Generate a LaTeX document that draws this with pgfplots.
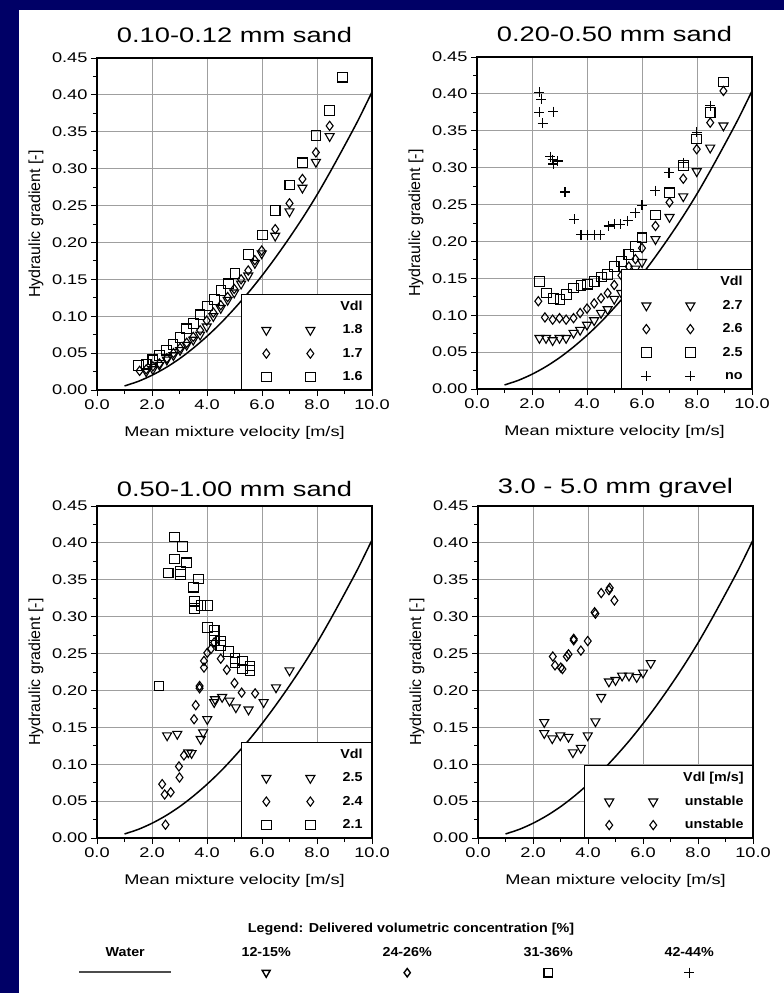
\documentclass[border=0pt]{standalone}
\usepackage{fontspec}
\setmainfont{Liberation Sans}[FakeStretch=1.3]
\newfontfamily\ylabfont{Liberation Sans}
\newfontfamily\legfont{Liberation Sans}[FakeStretch=1.1]
\usepackage{pgfplots}
\pgfplotsset{compat=1.18}
\definecolor{slidebg}{HTML}{000066}

% water reference curve, shared by all four panels
\pgfplotstableread{
v i
1.0 0.0055
1.5 0.0117
2.0 0.0200
2.5 0.0302
3.0 0.0424
3.5 0.0567
4.0 0.0728
4.5 0.0906
5.0 0.1105
5.5 0.1318
6.0 0.1550
6.5 0.1800
7.0 0.2065
7.5 0.2345
8.0 0.2645
8.5 0.2970
9.0 0.3310
9.5 0.3660
10.0 0.4040
}\water

\pgfplotsset{
  panel/.style={
    scale only axis, width=275pt, height=332pt,
    xmin=0, xmax=10, ymin=0, ymax=0.45,
    xtick={0,2,4,6,8,10},
    xticklabels={0.0,2.0,4.0,6.0,8.0,10.0},
    ytick={0,0.05,0.10,0.15,0.20,0.25,0.30,0.35,0.40,0.45},
    yticklabels={0.00,0.05,0.10,0.15,0.20,0.25,0.30,0.35,0.40,0.45},
    minor x tick num=1, minor y tick num=1,
    tick pos=left, tick align=outside,
    major tick length=6pt, minor tick length=4pt,
    tick style={black, line width=0.8pt},
    axis line style={line width=2.2pt},
    grid=major, major grid style={gray!75, line width=0.8pt},
    tick label style={font=\fontsize{14}{16}\selectfont},
    xlabel={Mean mixture velocity [m/s]},
    ylabel={Hydraulic gradient [-]},
    xlabel style={font=\fontsize{14}{16}\selectfont, at={(axis description cs:0.5,0)}, anchor=base, yshift=-46pt},
    ylabel style={font=\ylabfont\fontsize{16}{18}\selectfont, at={(axis description cs:-0.222,0.5)}, anchor=center},
    title style={font=\fontsize{21}{24}\selectfont, at={(axis description cs:0.5,1)}, anchor=base, yshift=10pt},
    legend cell align=right,
    legend style={at={(1,0)}, anchor=south east, draw=black, line width=0.8pt, fill=white,
      inner xsep=9pt, inner ysep=6pt, row sep=9pt, column sep=19pt,
      font=\legfont\bfseries\fontsize{13}{15}\selectfont,
      nodes={inner sep=0pt, text height=10pt, text depth=3pt}},
    legend image code/.code={\path[draw=none, fill=none] (-16pt,-3pt) rectangle (55pt,8pt);
      \draw[##1, fill=none] plot coordinates {(0pt,0pt) (44pt,0pt)};},
  },
  tri/.style={only marks, mark=triangle, mark size=5.2pt, mark options={rotate=180, line width=1.1pt, black}},
  dia/.style={only marks, mark=diamond, mark size=4.6pt, mark options={line width=1.1pt, black}},
  sqr/.style={only marks, mark=square, mark size=4.8pt, mark options={line width=1.1pt, black}},
  crs/.style={only marks, mark=+, mark size=5pt, mark options={line width=1.1pt, black}},
  wline/.style={black, line width=1.5pt, smooth, no marks, forget plot},
}

\begin{document}
\begin{tikzpicture}[x=1pt, y=1pt]
\path[use as bounding box] (0pt,0pt) rectangle (784pt,-993pt);
\fill[slidebg] (0pt,0pt) rectangle (784pt,-993pt);
\fill[white] (19pt,-10pt) rectangle (784pt,-993pt);

% ---- panel 1
\begin{axis}[panel, at={(97pt,-390pt)}, anchor=south west, title={0.10-0.12 mm sand}]
\addlegendimage{empty legend}\addlegendentry{Vdl}
\addplot[wline] table[x=v, y=i] {\water};
\addplot[tri] coordinates {(1.79,0.025)(2.03,0.028)(2.27,0.034)(2.54,0.041)(2.78,0.047)(3.02,0.054)(3.26,0.061)(3.50,0.068)(3.75,0.075)(3.99,0.086)(4.23,0.100)(4.50,0.111)(4.75,0.122)(4.99,0.132)(5.24,0.144)(5.50,0.155)(5.74,0.172)(5.99,0.185)(6.48,0.209)(7.00,0.242)(7.47,0.274)(7.96,0.309)(8.46,0.344)};
\addlegendentry{1.8}
\addplot[dia] coordinates {(1.55,0.026)(1.79,0.028)(2.03,0.032)(2.27,0.036)(2.54,0.043)(2.78,0.050)(3.02,0.057)(3.26,0.064)(3.50,0.072)(3.75,0.081)(3.99,0.094)(4.23,0.105)(4.50,0.115)(4.75,0.126)(4.99,0.137)(5.24,0.150)(5.50,0.162)(5.74,0.176)(5.99,0.189)(6.48,0.218)(7.00,0.253)(7.47,0.286)(7.96,0.322)(8.46,0.358)};
\addlegendentry{1.7}
\addplot[sqr] coordinates {(1.51,0.033)(1.79,0.035)(2.03,0.041)(2.27,0.047)(2.52,0.054)(2.76,0.062)(3.02,0.071)(3.26,0.083)(3.51,0.090)(3.75,0.102)(4.01,0.114)(4.27,0.123)(4.51,0.135)(4.78,0.144)(5.02,0.158)(5.50,0.184)(6.02,0.210)(6.48,0.243)(7.01,0.278)(7.47,0.308)(7.96,0.345)(8.46,0.379)(8.92,0.424)};
\addlegendentry{1.6}
\end{axis}

% ---- panel 2
\begin{axis}[panel, at={(477pt,-389pt)}, anchor=south west, title={0.20-0.50 mm sand}]
\addlegendimage{empty legend}\addlegendentry{Vdl}
\addplot[wline] table[x=v, y=i] {\water};
\addplot[tri] coordinates {(2.27,0.069)(2.51,0.069)(2.75,0.066)(3.00,0.069)(3.24,0.069)(3.51,0.076)(3.75,0.080)(4.00,0.087)(4.26,0.093)(4.51,0.103)(4.75,0.108)(4.99,0.122)(5.25,0.130)(5.52,0.153)(5.76,0.163)(6.00,0.172)(6.49,0.203)(7.00,0.233)(7.50,0.261)(7.99,0.295)(8.48,0.327)(8.96,0.357)};
\addlegendentry{2.7}
\addplot[dia] coordinates {(2.23,0.119)(2.47,0.097)(2.75,0.094)(3.00,0.096)(3.24,0.094)(3.51,0.096)(3.75,0.103)(4.00,0.109)(4.26,0.116)(4.51,0.123)(4.75,0.130)(4.99,0.141)(5.25,0.154)(5.52,0.166)(5.76,0.176)(6.00,0.191)(6.49,0.221)(7.00,0.253)(7.50,0.285)(7.99,0.325)(8.48,0.361)(8.96,0.404)};
\addlegendentry{2.6}
\addplot[sqr] coordinates {(2.27,0.146)(2.53,0.130)(2.78,0.123)(3.02,0.121)(3.26,0.128)(3.51,0.137)(3.78,0.140)(4.02,0.142)(4.26,0.146)(4.52,0.152)(4.75,0.155)(4.99,0.166)(5.25,0.173)(5.52,0.182)(5.76,0.193)(6.00,0.205)(6.49,0.236)(7.00,0.266)(7.50,0.303)(7.99,0.339)(8.48,0.375)(8.96,0.416)};
\addlegendentry{2.5}
\addplot[crs] coordinates {(2.27,0.402)(2.33,0.393)(2.27,0.375)(2.39,0.360)(2.78,0.376)(2.66,0.315)(2.75,0.311)(2.94,0.309)(2.78,0.305)(3.20,0.267)(3.53,0.230)(3.78,0.209)(4.03,0.209)(4.26,0.209)(4.48,0.209)(4.79,0.221)(4.99,0.223)(5.21,0.223)(5.48,0.228)(5.76,0.239)(6.00,0.249)(6.49,0.269)(6.98,0.293)(7.50,0.307)(7.99,0.348)(8.48,0.384)};
\addlegendentry{no}
\end{axis}

% ---- panel 3
\begin{axis}[panel, at={(97pt,-838pt)}, anchor=south west, title={0.50-1.00 mm sand}, title style={yshift=-6pt}]
\addlegendimage{empty legend}\addlegendentry{Vdl}
\addplot[wline] table[x=v, y=i] {\water};
\addplot[tri] coordinates {(2.55,0.139)(2.92,0.141)(3.32,0.116)(3.44,0.115)(3.77,0.134)(3.86,0.143)(4.01,0.161)(4.26,0.184)(4.29,0.188)(4.55,0.191)(4.82,0.186)(5.05,0.177)(5.51,0.174)(6.06,0.184)(6.51,0.204)(7.00,0.227)};
\addlegendentry{2.5}
\addplot[dia] coordinates {(4.26,0.265)(4.14,0.256)(4.01,0.251)(3.89,0.240)(3.89,0.231)(4.50,0.243)(4.72,0.228)(5.00,0.210)(5.26,0.197)(5.75,0.196)(3.73,0.206)(3.73,0.203)(3.59,0.180)(3.53,0.161)(3.16,0.112)(2.98,0.097)(3.00,0.082)(2.37,0.073)(2.46,0.059)(2.68,0.062)(2.49,0.018)};
\addlegendentry{2.4}
\addplot[sqr] coordinates {(2.82,0.408)(3.10,0.395)(2.82,0.378)(3.26,0.373)(2.59,0.359)(3.04,0.361)(3.04,0.357)(3.69,0.351)(3.50,0.340)(3.55,0.321)(3.55,0.311)(3.78,0.315)(4.01,0.315)(4.01,0.285)(4.26,0.281)(4.26,0.274)(4.26,0.268)(4.50,0.267)(4.50,0.261)(4.78,0.253)(5.02,0.243)(5.02,0.238)(5.29,0.240)(5.29,0.229)(5.56,0.233)(5.56,0.227)(2.25,0.206)};
\addlegendentry{2.1}
\end{axis}

% ---- panel 4
\begin{axis}[panel, at={(478pt,-838pt)}, anchor=south west, title={3.0 - 5.0 mm gravel}, title style={yshift=-3pt}]
\addlegendimage{empty legend}\addlegendentry{Vdl [m/s]}
\addplot[wline] table[x=v, y=i] {\water};
\addplot[tri] coordinates {(2.41,0.157)(2.41,0.142)(2.70,0.135)(2.99,0.139)(3.29,0.137)(3.45,0.116)(3.74,0.122)(3.99,0.139)(4.27,0.158)(4.48,0.191)(4.76,0.212)(5.00,0.214)(5.24,0.220)(5.49,0.220)(5.77,0.218)(6.00,0.224)(6.28,0.237)};
\addlegendentry{unstable}
\addplot[dia] coordinates {(2.72,0.246)(2.80,0.234)(3.01,0.231)(3.07,0.229)(3.23,0.246)(3.29,0.249)(3.48,0.268)(3.48,0.270)(3.74,0.254)(3.99,0.267)(4.24,0.306)(4.27,0.304)(4.48,0.332)(4.76,0.336)(4.79,0.339)(4.96,0.322)};
\addlegendentry{unstable}
\end{axis}

% ---- shared legend at the foot
\node[anchor=base, font=\legfont\bfseries\fontsize{13}{15}\selectfont] at (411pt,-932pt) {Legend: Delivered volumetric concentration [\%]};
\begin{axis}[hide axis, scale only axis, width=1pt, height=1pt, xmin=0, xmax=1, ymin=0, ymax=1,
  at={(75pt,-947pt)}, anchor=south west,
  legend columns=5,
  legend style={at={(0,1)}, anchor=north west, draw=none, fill=none, inner sep=0pt,
    column sep=0pt, /tikz/every even column/.append style={column sep=41pt},
    font=\legfont\bfseries\fontsize{13}{15}\selectfont,
    nodes={inner sep=0pt, text width=100pt, align=center, text height=10pt, text depth=3pt}}]
\addlegendimage{legend image code/.code={\draw[overlay, black!70, line width=2pt] (4pt,-19pt) -- (96pt,-19pt);}}
\addlegendentry{Water}
\addlegendimage{legend image code/.code={\draw[overlay, black, line width=1.4pt] plot[mark=triangle, mark size=4.6pt, mark options={rotate=180}] coordinates {(50pt,-20pt)};}}
\addlegendentry{12-15\%}
\addlegendimage{legend image code/.code={\draw[overlay, black, line width=1.4pt] plot[mark=diamond, mark size=4.2pt] coordinates {(50pt,-20pt)};}}
\addlegendentry{24-26\%}
\addlegendimage{legend image code/.code={\draw[overlay, black, line width=1.2pt] plot[mark=square, mark size=4.2pt] coordinates {(50pt,-20pt)};}}
\addlegendentry{31-36\%}
\addlegendimage{legend image code/.code={\draw[overlay, black, line width=1pt] plot[mark=+, mark size=5pt] coordinates {(50pt,-20pt)};}}
\addlegendentry{42-44\%}
\end{axis}
\end{tikzpicture}
\end{document}
